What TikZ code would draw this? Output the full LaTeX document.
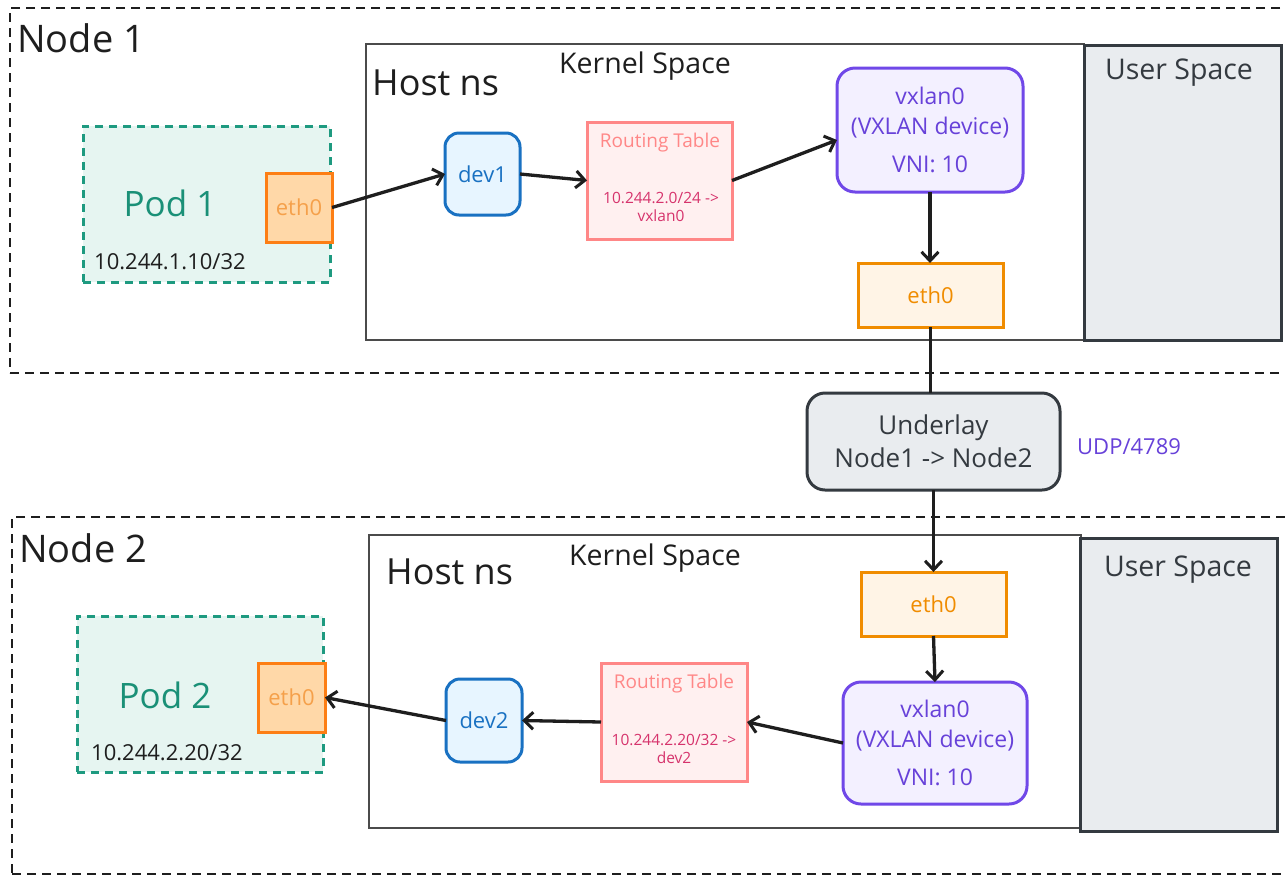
\documentclass[tikz,border=0pt]{standalone}
\usepackage{fontspec}
\setmainfont{Open Sans}
\usetikzlibrary{arrows.meta,calc}
\definecolor{ink}{HTML}{1E1E1E}
\definecolor{podfill}{HTML}{E6F5F1}
\definecolor{podline}{HTML}{1E9A80}
\definecolor{podtext}{HTML}{1A9077}
\definecolor{ethpfill}{HTML}{FFD8A8}
\definecolor{ethpline}{HTML}{FD7E14}
\definecolor{ethptext}{HTML}{F5A04A}
\definecolor{devfill}{HTML}{E7F5FF}
\definecolor{devline}{HTML}{1971C2}
\definecolor{rtfill}{HTML}{FFF0F0}
\definecolor{rtline}{HTML}{FF8787}
\definecolor{rttext}{HTML}{D6336C}
\definecolor{vxfill}{HTML}{F3F0FF}
\definecolor{vxline}{HTML}{7048E8}
\definecolor{vxtext}{HTML}{6741D9}
\definecolor{ethfill}{HTML}{FFF4E6}
\definecolor{ethline}{HTML}{F08C00}
\definecolor{grayfill}{HTML}{E9ECEF}
\definecolor{grayline}{HTML}{343A40}
\newcommand{\fsz}[1]{\fontsize{#1}{#1}\selectfont}
\begin{document}
\begin{tikzpicture}[x=1pt,y=-1pt,
  box/.style={rectangle,inner sep=0pt,outer sep=0pt},
  outerbox/.style={box,draw=ink,line width=2.6pt,dash pattern=on 9pt off 6pt},
  kernelbox/.style={box,draw=ink!80,line width=1.4pt},
  userbox/.style={box,draw=grayline,fill=grayfill,line width=3pt},
  podbox/.style={box,draw=podline,fill=podfill,line width=3pt,dash pattern=on 8pt off 6pt},
  ethpod/.style={box,draw=ethpline,fill=ethpfill,line width=3pt,text=ethptext,font=\fsz{22}},
  devbox/.style={box,draw=devline,fill=devfill,line width=3pt,rounded corners=14pt,text=devline,font=\fsz{22}},
  rtbox/.style={box,draw=rtline,fill=rtfill,line width=3pt},
  vxbox/.style={box,draw=vxline,fill=vxfill,line width=3pt,rounded corners=18pt,text=vxtext,align=center,font=\fontsize{23}{30}\selectfont},
  ethhost/.style={box,draw=ethline,fill=ethfill,line width=3pt,text=ethline,font=\fsz{22}},
  underbox/.style={box,draw=grayline,fill=grayfill,line width=3pt,rounded corners=18pt,text=grayline,align=center,font=\fontsize{26}{33}\selectfont},
  lbl/.style={inner sep=0pt,text=ink},
  arr/.style={draw=ink,line width=3.3pt,-{Straight Barb[length=9pt,width=17pt,line width=3pt]}},
  link/.style={draw=ink,line width=3.3pt}]
\useasboundingbox (0,0) rectangle (1285,879);
\fill[white] (0,0) rectangle (1285,879);

% outer node frames
\node[outerbox,minimum width=1285pt,minimum height=365pt] (n1frame) at (652.5,190.5) {};
\node[outerbox,minimum width=1283pt,minimum height=357pt] (n2frame) at (653.5,695.5) {};
\node[lbl,anchor=west,font=\fsz{38}] (n1lbl) at (17,38) {Node 1};
\node[lbl,anchor=west,font=\fsz{38}] (n2lbl) at (19,548) {Node 2};

% kernel / user spaces
\node[kernelbox,minimum width=718pt,minimum height=296pt] (k1) at (725,192) {};
\node[userbox,minimum width=197pt,minimum height=295pt] (u1) at (1182.5,192.5) {};
\node[kernelbox,minimum width=712pt,minimum height=293pt] (k2) at (725,681.5) {};
\node[userbox,minimum width=197pt,minimum height=293pt] (u2) at (1178.5,684.5) {};
\node[lbl,font=\fsz{28.5}] (k1lbl) at (645,66) {Kernel Space};
\node[lbl,font=\fsz{28.5}] (k2lbl) at (655,558) {Kernel Space};
\node[lbl,anchor=west,font=\fsz{36}] (h1lbl) at (372,83) {Host ns};
\node[lbl,anchor=west,font=\fsz{36}] (h2lbl) at (386,572) {Host ns};
\node[lbl,text=grayline,font=\fsz{28.5}] (u1lbl) at (1179,73) {User Space};
\node[lbl,text=grayline,font=\fsz{28.5}] (u2lbl) at (1178,570) {User Space};

% pods
\node[podbox,minimum width=247pt,minimum height=156pt] (pod1) at (206.5,204) {};
\node[lbl,text=podtext,font=\fsz{35}] (pod1lbl) at (170,203) {Pod 1};
\node[lbl,anchor=west,font=\fsz{22}] (pod1ip) at (94,262) {10.244.1.10/32};
\node[ethpod,minimum width=66pt,minimum height=69pt] (pe1) at (299,207.5) {eth0};

\node[podbox,minimum width=246pt,minimum height=156pt] (pod2) at (200,694) {};
\node[lbl,text=podtext,font=\fsz{35}] (pod2lbl) at (165,695) {Pod 2};
\node[lbl,anchor=west,font=\fsz{22}] (pod2ip) at (91,753) {10.244.2.20/32};
\node[ethpod,minimum width=67pt,minimum height=69pt] (pe2) at (291.5,697.5) {eth0};

% node 1 devices
\node[devbox,minimum width=75pt,minimum height=82pt] (dev1) at (482.5,174) {dev1};
\node[rtbox,minimum width=145pt,minimum height=117pt] (rt1) at (659.5,180.5) {};
\node[lbl,text=rtline,font=\fsz{19}] (rt1t) at (660,143) {Routing Table};
\node[lbl,text=rttext,align=center,font=\fontsize{15.5}{18}\selectfont] (rt1r) at (661,207) {10.244.2.0/24 ->\\vxlan0};
\node[vxbox,minimum width=186pt,minimum height=124pt] (vx1) at (930,130) {vxlan0\\(VXLAN device)\\[8pt]VNI: 10};
\node[ethhost,minimum width=145pt,minimum height=64pt] (eh1) at (930.5,295) {eth0};

% underlay
\node[underbox,minimum width=253pt,minimum height=97pt] (under) at (933.5,441.5) {Underlay\\Node1 -> Node2};
\node[lbl,anchor=west,text=vxtext,font=\fsz{22}] (udp) at (1077,447) {UDP/4789};

% node 2 devices
\node[ethhost,minimum width=145pt,minimum height=64pt] (eh2) at (933.5,604) {eth0};
\node[vxbox,minimum width=184pt,minimum height=122pt] (vx2) at (935,743) {vxlan0\\(VXLAN device)\\[8pt]VNI: 10};
\node[rtbox,minimum width=146pt,minimum height=118pt] (rt2) at (674,722) {};
\node[lbl,text=rtline,font=\fsz{19}] (rt2t) at (674,684) {Routing Table};
\node[lbl,text=rttext,align=center,font=\fontsize{15.5}{18}\selectfont] (rt2r) at (674,749) {10.244.2.20/32 ->\\dev2};
\node[devbox,minimum width=76pt,minimum height=83pt] (dev2) at (484,720.5) {dev2};

% connectors
\draw[arr] (pe1.east) -- (dev1.west);
\draw[arr] (dev1.east) -- (rt1.west);
\draw[arr] (rt1.east) -- ($(vx1.west)+(0,10)$);
\draw[arr] (vx1.south) -- (vx1.south |- eh1.north);
\draw[link] (eh1.south) -- (eh1.south |- under.north);
\draw[arr] (under.south) -- (eh2.north);
\draw[arr] (eh2.south) -- (vx2.north);
\draw[arr] (vx2.west) -- (rt2.east);
\draw[arr] (rt2.west) -- (dev2.east);
\draw[arr] (dev2.west) -- (pe2.east);
\end{tikzpicture}
\end{document}
